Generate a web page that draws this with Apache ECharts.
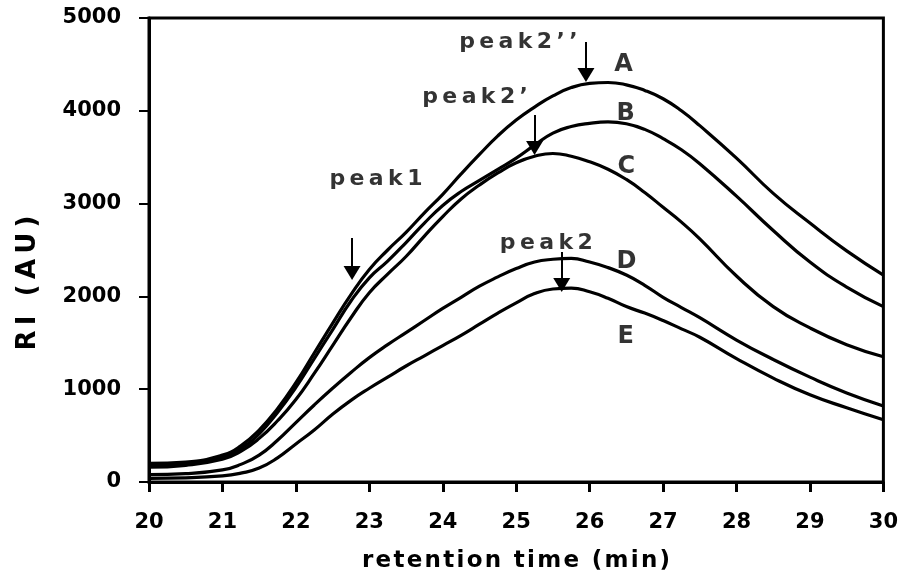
<!DOCTYPE html>
<html>
<head>
<meta charset="utf-8">
<script src="https://cdn.jsdelivr.net/npm/echarts@6/dist/echarts.min.js"></script>
<style>
  html, body { margin: 0; padding: 0; background: #fff; }
  #chart { width: 901px; height: 575px; }
</style>
</head>
<body>
<div id="chart"></div>
<script>
// Retention times (min) at which the RI traces are sampled
const times = [20, 20.5, 21, 21.25, 21.5, 21.75, 22, 22.25, 22.5, 22.75,
               23, 23.25, 23.5, 23.75, 24, 24.25, 24.5, 24.75, 25, 25.25,
               25.5, 25.75, 26, 26.25, 26.5, 26.75, 27, 27.25, 27.5, 28,
               28.5, 29, 29.5, 30];

// RI signal (AU) for each trace
const traceA = [200, 215, 290, 390, 560, 790, 1070, 1390, 1710, 2020,
                2290, 2500, 2690, 2900, 3100, 3320, 3530, 3730, 3900, 4040,
                4160, 4250, 4295, 4305, 4280, 4220, 4130, 4000, 3840, 3490,
                3110, 2790, 2490, 2230];
const traceB = [180, 195, 265, 360, 520, 750, 1020, 1330, 1640, 1950,
                2200, 2380, 2580, 2790, 2980, 3130, 3250, 3370, 3490, 3630,
                3760, 3830, 3865, 3880, 3860, 3800, 3700, 3580, 3430, 3080,
                2710, 2370, 2100, 1890];
const traceC = [160, 180, 245, 330, 470, 660, 890, 1170, 1470, 1770,
                2040, 2240, 2430, 2650, 2860, 3050, 3200, 3330, 3440, 3510,
                3540, 3510, 3450, 3370, 3260, 3120, 2960, 2800, 2620, 2220,
                1890, 1660, 1480, 1350];
const traceD = [80, 90, 130, 190, 290, 450, 640, 830, 1010, 1180,
                1340, 1480, 1610, 1740, 1870, 1990, 2110, 2210, 2300, 2370,
                2400, 2410, 2370, 2310, 2230, 2120, 1990, 1880, 1770, 1530,
                1320, 1130, 960, 820];
const traceE = [40, 45, 65, 95, 150, 260, 410, 560, 730, 880,
                1010, 1130, 1250, 1360, 1470, 1580, 1700, 1820, 1930, 2030,
                2080, 2090, 2050, 1980, 1890, 1820, 1740, 1650, 1560, 1330,
                1120, 940, 800, 670];

const traceNames = ['A', 'B', 'C', 'D', 'E'];
// where each trace letter sits [time, RI]
const traceLabelAt = [[26.46, 4500], [26.49, 3966], [26.5, 3394], [26.5, 2371], [26.49, 1562]];

// peak annotations: text, text anchor [time, RI], arrow time, arrow start RI, arrow tip RI
const peakTexts = ['peak1', 'peak2\u2019', 'peak2\u2019\u2019', 'peak2'];
const peakTextAt = [[23.09, 3265], [24.44, 4149], [25.03, 4741], [25.41, 2575]];
const arrowTime = [22.765, 25.25, 25.95, 25.62];
const arrowStart = [2629, 3955, 4741, 2478];
const arrowTip = [2177, 3524, 4310, 2047];

// axes
const xMin = 20, xMax = 30, xStep = 1;
const yMin = 0, yMax = 5000, yStep = 1000;
const xTitle = 'retention time (min)';
const yTitle = 'RI (AU)';

const FONT = '"DejaVu Sans", "Liberation Sans", Arial, sans-serif';
const spread = (s, gap) => Array.from(s).join(gap);

const gridBox = { left: 149, right: 17, top: 18, bottom: 93 };
const plotH = 575 - gridBox.top - gridBox.bottom;
const headH = 14;
const headShift = (headH / 2) * (yMax - yMin) / plotH;

const traces = [traceA, traceB, traceC, traceD, traceE];

const lineSeries = traces.map((vals, i) => ({
  name: traceNames[i],
  type: 'line',
  data: times.map((t, k) => [t, vals[k]]),
  smooth: 0.5,
  symbol: 'none',
  lineStyle: { color: '#000', width: 3.2 },
  silent: true,
  z: 3
}));

const labelSeries = {
  type: 'scatter',
  name: 'labels',
  symbolSize: 0,
  silent: true,
  z: 5,
  data: traceLabelAt.map((p, i) => [p[0], p[1], traceNames[i]]),
  label: {
    show: true, position: 'inside', formatter: p => p.data[2],
    color: '#000', fontFamily: FONT, fontWeight: 'bold', fontSize: 24
  }
};

const peakSeries = {
  type: 'scatter',
  name: 'peaks',
  symbolSize: 0,
  silent: true,
  z: 5,
  data: peakTextAt.map((p, i) => [p[0], p[1], spread(peakTexts[i], '\u2009')]),
  label: {
    show: true, position: 'inside', formatter: p => p.data[2],
    color: '#000', fontFamily: FONT, fontWeight: 'bold', fontSize: 22
  },
  markLine: {
    silent: true,
    animation: false,
    symbol: ['none', 'triangle'],
    symbolSize: [17, headH],
    label: { show: false },
    lineStyle: { color: '#000', width: 2, type: 'solid' },
    data: arrowTime.map((t, i) => [
      { coord: [t, arrowStart[i]] },
      { coord: [t, arrowTip[i] + headShift] }
    ])
  }
};

const chart = echarts.init(document.getElementById('chart'), null, { renderer: 'canvas' });
chart.setOption({
  animation: false,
  backgroundColor: '#fff',
  grid: Object.assign({ show: true, borderColor: '#000', borderWidth: 3, backgroundColor: 'transparent' }, gridBox),
  xAxis: {
    type: 'value', min: xMin, max: xMax, interval: xStep,
    axisLine: { show: true, onZero: false, lineStyle: { color: '#000', width: 3 } },
    axisTick: { show: true, inside: false, length: 10, lineStyle: { color: '#000', width: 3 } },
    axisLabel: { margin: 30, color: '#000', fontFamily: FONT, fontWeight: 'bold', fontSize: 21,
                 formatter: v => String(v) },
    splitLine: { show: false }
  },
  yAxis: {
    type: 'value', min: yMin, max: yMax, interval: yStep,
    axisLine: { show: true, lineStyle: { color: '#000', width: 3 } },
    axisTick: { show: true, inside: false, length: 10, lineStyle: { color: '#000', width: 2 } },
    axisLabel: { margin: 28, color: '#000', fontFamily: FONT, fontWeight: 'bold', fontSize: 21,
                 formatter: v => String(v) },
    splitLine: { show: false }
  },
  graphic: [
    {
      type: 'text', x: 516, y: 561, silent: true,
      style: { text: spread(xTitle, '\u200A'), font: 'bold 23px ' + FONT, fill: '#000',
               align: 'center', verticalAlign: 'middle' }
    },
    {
      type: 'text', x: 28, y: 283, rotation: Math.PI / 2, silent: true,
      style: { text: spread(yTitle, '\u2009'), font: 'bold 26px ' + FONT, fill: '#000',
               align: 'center', verticalAlign: 'middle' }
    }
  ],
  series: lineSeries.concat([labelSeries, peakSeries])
});
</script>
</body>
</html>
